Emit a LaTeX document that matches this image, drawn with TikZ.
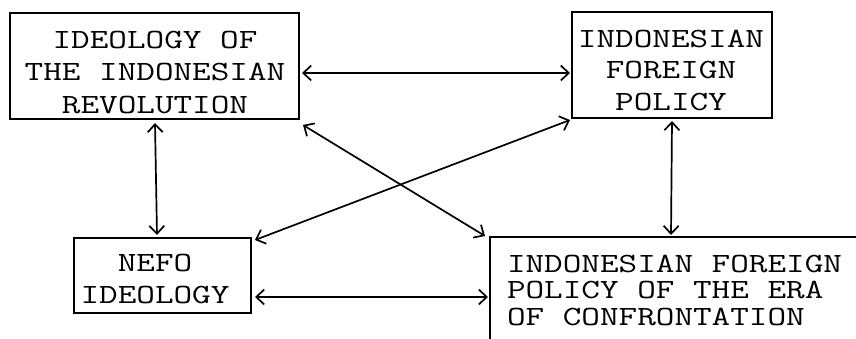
\documentclass[tikz,border=0pt]{standalone}
\usepackage{fontspec}
\usetikzlibrary{arrows.meta}
\newcommand\twfont[1]{\ttfamily\fontsize{27.8}{#1}\selectfont}
\tikzset{
  boxnode/.style={draw, line width=1.4pt, inner sep=0pt, outer sep=0pt},
  txt/.style={inner sep=0pt, outer sep=0pt, xscale=1.3, transform shape},
  arr/.style={{Straight Barb[length=8pt,width=15pt]}-{Straight Barb[length=8pt,width=15pt]}, line width=1.7pt}
}
\begin{document}
\begin{tikzpicture}[x=1pt,y=-1pt]
\useasboundingbox (0,0) rectangle (856,339);
\clip (0,0) rectangle (856,339);
% boxes
\node[boxnode, minimum width=289pt, minimum height=106pt] (b1) at (154.5,66) {};
\node[boxnode, minimum width=200pt, minimum height=106pt] (b2) at (672,65) {};
\node[boxnode, minimum width=177pt, minimum height=75pt] (b3) at (162.5,275.5) {};
\node[boxnode, minimum width=500pt, minimum height=200pt, anchor=north west] (b4) at (490,237) {};
% texts
\node[txt, anchor=north, align=center, font=\twfont{32.5}] (t1) at (155,31) {IDEOLOGY OF\\THE INDONESIAN\\REVOLUTION};
\node[txt, anchor=north, align=center, font=\twfont{31.5}] (t2) at (671,30) {INDONESIAN\\FOREIGN\\POLICY};
\node[txt, anchor=north, align=center, font=\twfont{32}] (t3) at (155,254.5) {NEFO\\IDEOLOGY};
\node[txt, anchor=north west, align=left, font=\twfont{26.5}] (t4) at (507,255) {INDONESIAN FOREIGN\\POLICY OF THE ERA\\OF CONFRONTATION};
% connectors
\draw[arr] ([shift={(3,7)}]b1.east) -- ([shift={(-2,8)}]b2.west);
\draw[arr] ([shift={(0.5,4)}]b1.south) -- ([shift={(-5.5,-3)}]b3.north);
\draw[arr] ([shift={(0,3)}]b2.south) -- ([shift={(181,-2)}]b4.north west);
\draw[arr] ([shift={(4,21.5)}]b3.east) -- ([shift={(-2,60)}]b4.north west);
\draw[arr] ([shift={(4,6)}]b1.south east) -- ([shift={(-5,-1)}]b4.north west);
\draw[arr] ([shift={(-2,2)}]b2.south west) -- ([shift={(4,2)}]b3.north east);
\end{tikzpicture}
\end{document}
